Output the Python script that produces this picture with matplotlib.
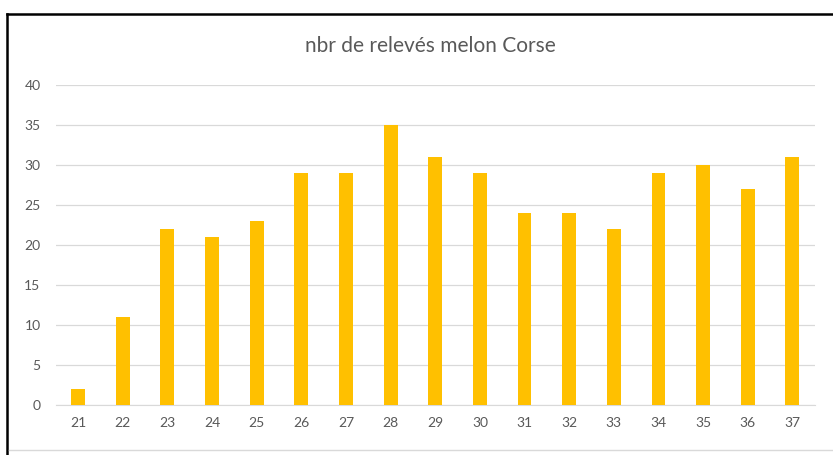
import matplotlib.pyplot as plt
from matplotlib.lines import Line2D

plt.rcParams['font.family'] = ['Lato', 'DejaVu Sans']

# weeks and number of records
weeks = ['21', '22', '23', '24', '25', '26', '27', '28', '29',
         '30', '31', '32', '33', '34', '35', '36', '37']
counts = [2, 11, 22, 21, 23, 29, 29, 35, 31, 29, 24, 24, 22, 29, 30, 27, 31]

fig = plt.figure(figsize=(8.33, 4.55), dpi=100)
ax = fig.add_axes([0.067, 0.110, 0.911, 0.703])

ax.bar(range(len(weeks)), counts, width=0.31, color='#FFC000', zorder=3)

ax.set_xlim(-0.5, len(weeks) - 0.5)
ax.set_ylim(0, 40)
ax.set_yticks(range(0, 41, 5))
ax.set_xticks(range(len(weeks)))
ax.set_xticklabels(weeks)
ax.yaxis.grid(True, color='#D9D9D9', linewidth=0.9, zorder=0)
for s in ['top', 'right', 'left']:
    ax.spines[s].set_visible(False)
ax.spines['bottom'].set_color('#D9D9D9')
ax.tick_params(axis='both', length=0, colors='#595959', labelsize=10)
ax.tick_params(axis='y', pad=11)
ax.tick_params(axis='x', pad=9)

fig.text(0.517, 0.90, 'nbr de relevés melon Corse', ha='center', va='center',
         fontsize=15, color='#595959')

# outer frame (cropped at right and bottom)
top = 1 - 14 / 455
left = 7 / 833
fig.add_artist(Line2D([left, 1], [top, top], transform=fig.transFigure,
                      color='black', linewidth=1.8))
fig.add_artist(Line2D([left, left], [0, top], transform=fig.transFigure,
                      color='black', linewidth=1.8))
fig.add_artist(Line2D([9 / 833, 1], [1 - 450 / 455] * 2,
                      transform=fig.transFigure, color='#D9D9D9', linewidth=1))

fig.savefig('out.png', dpi=100)
